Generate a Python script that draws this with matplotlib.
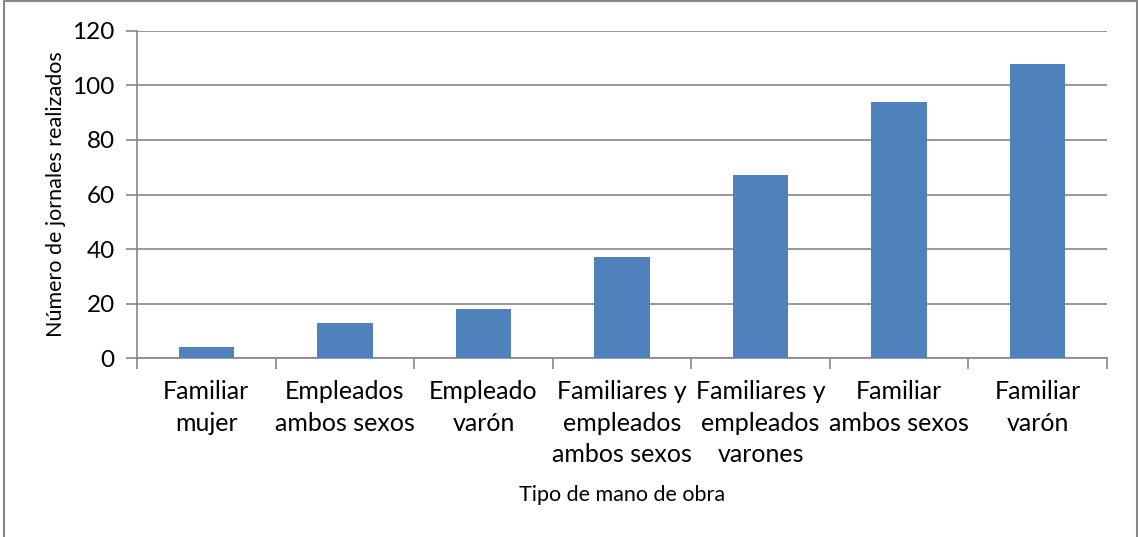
import numpy as np
import matplotlib.pyplot as plt
from matplotlib.patches import Rectangle

categories = ["Familiar\nmujer", "Empleados\nambos sexos", "Empleado\nvarón",
              "Familiares y\nempleados\nambos sexos", "Familiares y\nempleados\nvarones",
              "Familiar\nambos sexos", "Familiar\nvarón"]
values = [4, 13, 18, 37, 67, 94, 108]
yticks = [0, 20, 40, 60, 80, 100, 120]

plt.rcParams['font.family'] = ['Lato', 'DejaVu Sans']
grey = '#868686'

fig = plt.figure(figsize=(11.38, 5.37), dpi=100)
ax = fig.add_axes([0.1204, 0.3333, 0.8524, 0.609])

x = np.arange(len(values))
ax.bar(x, values, width=0.4, color='#4F81BD', zorder=3)

ax.set_xlim(-0.5, len(values) - 0.5)
ax.set_ylim(0, 120)
ax.set_yticks(yticks)
ax.set_yticklabels([str(t) for t in yticks], fontsize=17.5)
ax.yaxis.grid(True, color=grey, linewidth=1.2, zorder=0)

ax.set_xticks(x)
ax.set_xticklabels(categories, fontsize=18, linespacing=1.45, va='top')
ax.tick_params(axis='x', length=0, pad=16)
ax.set_xticks(np.arange(len(values) + 1) - 0.5, minor=True)
ax.tick_params(axis='x', which='minor', length=8, color=grey, width=1.2)
ax.tick_params(axis='y', length=8, color=grey, width=1.2, pad=8)

for s in ['top', 'right']:
    ax.spines[s].set_visible(False)
for s in ['left', 'bottom']:
    ax.spines[s].set_color(grey)
    ax.spines[s].set_linewidth(1.2)

ax.set_ylabel("Número de jornales realizados", fontsize=15.5, va='center')
ax.yaxis.set_label_coords(-0.084, 0.5)
fig.text(0.5 * (0.1204 + 0.9728), 1 - 495 / 537, "Tipo de mano de obra",
         ha='center', va='center', fontsize=15.5)

fig.patches.append(Rectangle((4 / 1138, -0.01), 1133 / 1138, 1 - 1 / 537 + 0.01,
                             transform=fig.transFigure, fill=False,
                             edgecolor=grey, linewidth=1.5))

fig.savefig("out.png", dpi=100)
